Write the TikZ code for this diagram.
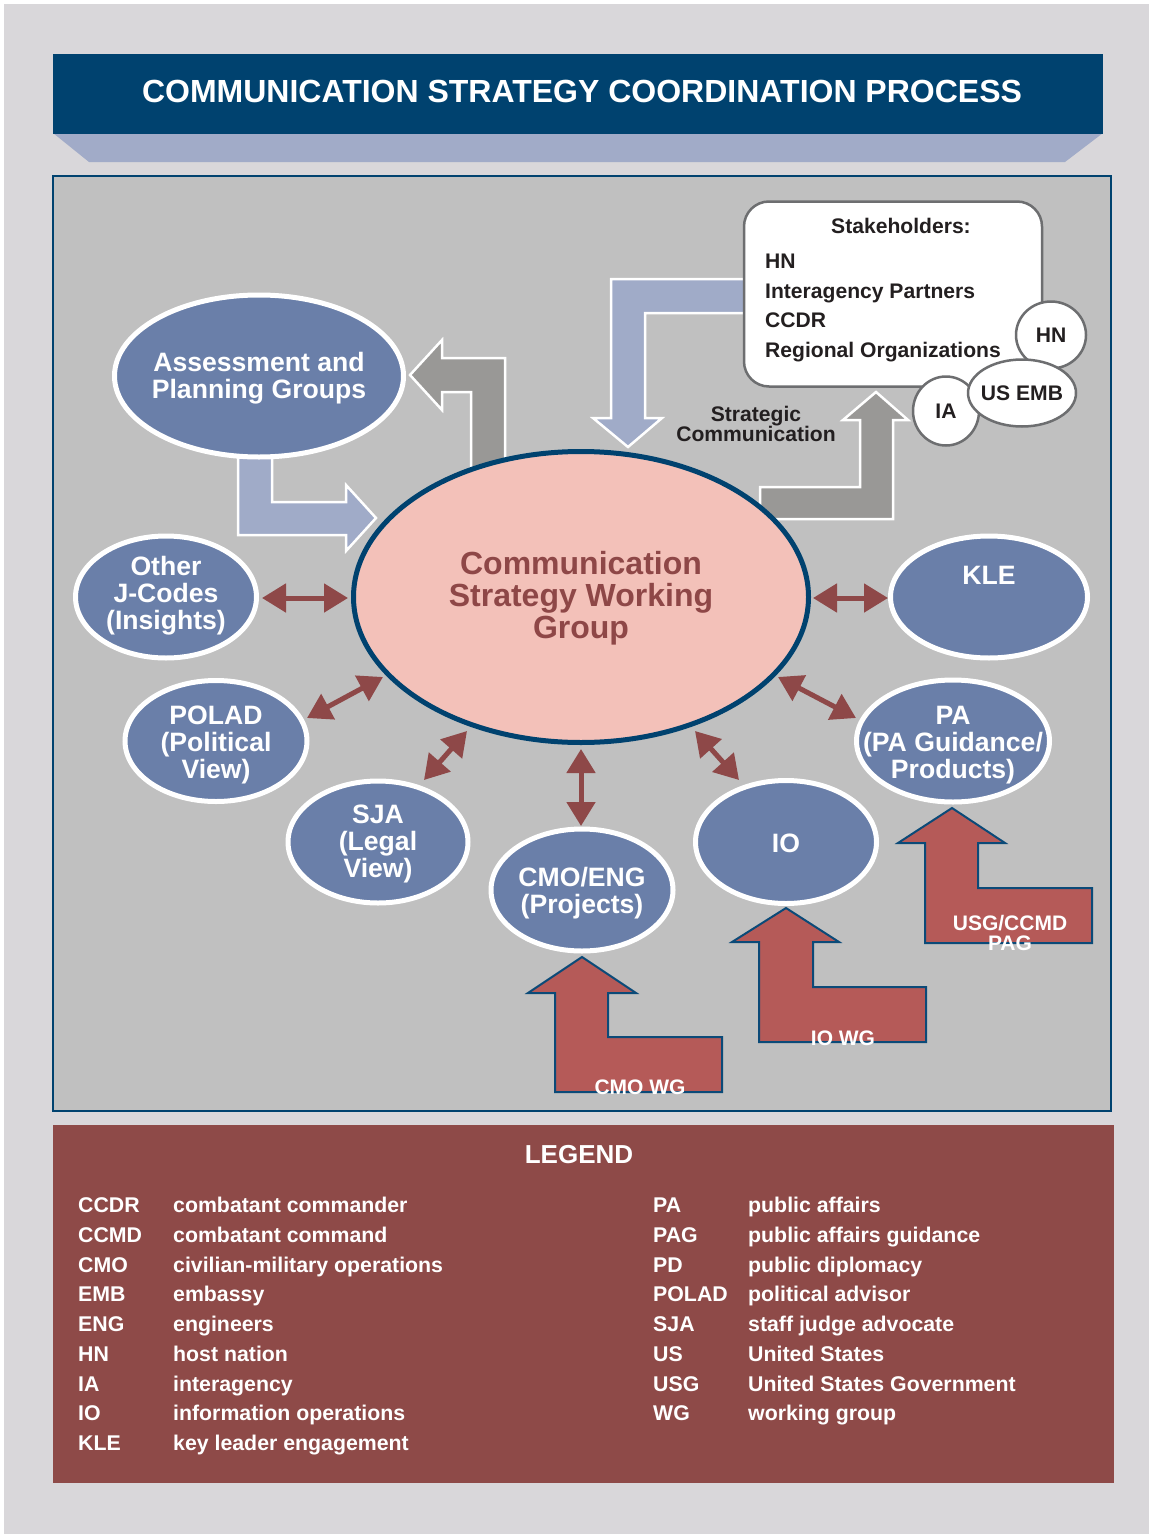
\documentclass[tikz,border=0pt]{standalone}
\usepackage{fontspec}
\setmainfont{Liberation Sans}
\usetikzlibrary{shapes.geometric,arrows.meta}
\definecolor{pagebg}{HTML}{D9D7DA}
\definecolor{navy}{HTML}{00426F}
\definecolor{trap}{HTML}{A1ABC8}
\definecolor{panel}{HTML}{C0C0C0}
\definecolor{legbg}{HTML}{8E4A48}
\definecolor{satfill}{HTML}{6A7FA9}
\definecolor{core}{HTML}{F3C1B9}
\definecolor{coretext}{HTML}{8E4747}
\definecolor{arrowred}{HTML}{8E4848}
\definecolor{lblue}{HTML}{A0ABC8}
\definecolor{lgray}{HTML}{999896}
\definecolor{redblk}{HTML}{B55A58}
\definecolor{redline}{HTML}{0B4A78}
\definecolor{boxline}{HTML}{6D6E70}
\definecolor{ink}{HTML}{231F20}
\tikzset{
  satell/.style={ellipse, draw=white, line width=5pt, fill=satfill, inner sep=0pt},
  sattext/.style={text=white, font=\bfseries\fontsize{26.6}{27}\selectfont, align=center},
  biarrow/.style={{Triangle[length=24pt,width=28pt]}-{Triangle[length=24pt,width=28pt]}, line width=5pt, draw=arrowred},
  bigarrow/.style={draw=white, line width=2.5pt, line join=miter},
  redarrow/.style={draw=redline, fill=redblk, line width=2pt, line join=miter},
  redtext/.style={text=white, font=\bfseries\fontsize{21}{20}\selectfont, align=center},
  stk/.style={draw=boxline, fill=white, line width=2.5pt},
  stktext/.style={text=ink, font=\bfseries\fontsize{21.1}{20}\selectfont},
  legt/.style={text=white, font=\bfseries\fontsize{21.3}{25}\selectfont, anchor=base west, inner sep=0pt}
}
\begin{document}
\begin{tikzpicture}[x=1pt,y=-1pt]
\useasboundingbox (0,0) rectangle (1151,1536);
\fill[white] (0,0) rectangle (1151,1536);
\fill[pagebg] (4,4) rectangle (1149,1534);
% title
\fill[trap] (53,133) -- (1103,133) -- (1065,162) -- (89,162) -- cycle;
\fill[navy] (53,54) rectangle (1103,134);
\node[text=white, font=\bfseries\fontsize{32}{33}\selectfont] (title) at (582,91) {COMMUNICATION STRATEGY COORDINATION PROCESS};
% main panel
\draw[navy, fill=panel, line width=2pt] (53,176) rectangle (1111,1111);

% big block arrows
\filldraw[bigarrow, fill=lblue] (760,279) -- (611,279) -- (611,418) -- (593,418) -- (628,447) -- (662,418) -- (645,418) -- (645,313) -- (760,313) -- cycle;
\filldraw[bigarrow, fill=lgray] (876,392) -- (908,420) -- (893,420) -- (893,519) -- (760,519) -- (760,487) -- (860,487) -- (860,420) -- (843,420) -- cycle;
\filldraw[bigarrow, fill=lgray] (471,480) -- (471,392) -- (442,392) -- (442,410) -- (410,375) -- (442,340) -- (442,358) -- (505,358) -- (505,480) -- cycle;
\filldraw[bigarrow, fill=lblue] (238,440) -- (238,535) -- (346,535) -- (346,551) -- (376,518) -- (346,485) -- (346,502) -- (272,502) -- (272,440) -- cycle;

% stakeholders
\node[stk, rounded corners=25pt, minimum width=298pt, minimum height=185pt] (stake) at (893,294) {};
\node[stktext] (stakehead) at (901,226) {Stakeholders:};
\node[stktext, anchor=base west, inner sep=0pt] (s1) at (765,268.5) {HN};
\node[stktext, anchor=base west, inner sep=0pt] (s2) at (765,298.5) {Interagency Partners};
\node[stktext, anchor=base west, inner sep=0pt] (s3) at (765,327.5) {CCDR};
\node[stktext, anchor=base west, inner sep=0pt] (s4) at (765,357.5) {Regional Organizations};
\node[stk, ellipse, minimum width=70pt, minimum height=67pt, inner sep=0pt] (hn) at (1051,335) {};
\node[stktext] at (hn) {HN};
\node[stk, ellipse, minimum width=66pt, minimum height=69pt, inner sep=0pt] (ia) at (946,411) {};
\node[stktext] at (ia) {IA};
\node[stk, ellipse, minimum width=108pt, minimum height=67pt, inner sep=0pt] (usemb) at (1022,393) {};
\node[stktext] at (usemb) {US EMB};
\node[stktext, align=center] (stratcom) at (756,424) {Strategic\\Communication};

% central ellipse
\node[ellipse, draw=navy, line width=5pt, fill=core, minimum width=455pt, minimum height=291pt, inner sep=0pt] (cswg) at (581,597) {};
\node[text=coretext, font=\bfseries\fontsize{32}{32}\selectfont, align=center] at (581,598) {Communication\\Strategy Working\\Group};

% satellites
\node[satell, minimum width=289pt, minimum height=162pt] (apg) at (259,376) {};
\node[sattext] at (259,378) {Assessment and\\Planning Groups};
\node[satell, minimum width=181pt, minimum height=122pt] (ojc) at (166,597) {};
\node[sattext] at (166,596) {Other\\J-Codes\\(Insights)};
\node[satell, minimum width=182pt, minimum height=121pt] (polad) at (216,741) {};
\node[sattext] at (216,745) {POLAD\\(Political\\View)};
\node[satell, minimum width=180pt, minimum height=122pt] (sja) at (378,842) {};
\node[sattext] at (378,844) {SJA\\(Legal\\View)};
\node[satell, minimum width=182pt, minimum height=122pt] (cmo) at (582,890) {};
\node[sattext] at (582,893) {CMO/ENG\\(Projects)};
\node[satell, minimum width=181pt, minimum height=123pt] (io) at (786,842) {};
\node[sattext] at (786,843) {IO};
\node[satell, minimum width=193pt, minimum height=122pt] (pa) at (953,741) {};
\node[sattext] at (953,745) {PA\\(PA Guidance/\\Products)};
\node[satell, minimum width=197pt, minimum height=122pt] (kle) at (989,597) {};
\node[sattext] at (989,575) {KLE};

% double arrows
\coordinate (ojcA) at (262,598); \coordinate (cA) at (348,598);
\coordinate (kleA) at (888,598); \coordinate (cB) at (813,598);
\coordinate (poladA) at (307,718); \coordinate (cC) at (383,677);
\coordinate (sjaA) at (424,780); \coordinate (cD) at (467,731);
\coordinate (cmoA) at (581,826); \coordinate (cE) at (581,749);
\coordinate (ioA) at (739,780); \coordinate (cF) at (695,731);
\coordinate (paA) at (856,718); \coordinate (cG) at (778,677);
\draw[biarrow] (ojcA) -- (cA);
\draw[biarrow] (kleA) -- (cB);
\draw[biarrow] (poladA) -- (cC);
\draw[biarrow] (sjaA) -- (cD);
\draw[biarrow] (cmoA) -- (cE);
\draw[biarrow] (ioA) -- (cF);
\draw[biarrow] (paA) -- (cG);

% red L arrows
\filldraw[redarrow] (952,808) -- (1005,843) -- (978,843) -- (978,888) -- (1092,888) -- (1092,943) -- (925,943) -- (925,843) -- (898,843) -- cycle;
\filldraw[redarrow] (582,957) -- (636,993) -- (608,993) -- (608,1037) -- (722,1037) -- (722,1092) -- (555,1092) -- (555,993) -- (528,993) -- cycle;
\filldraw[redarrow] (786,908) -- (839,942) -- (813,942) -- (813,987) -- (926,987) -- (926,1042) -- (759,1042) -- (759,942) -- (732,942) -- cycle;
\node[redtext] (usgl) at (1010,933) {USG/CCMD\\PAG};
\node[redtext] (cmol) at (640,1087) {CMO WG};
\node[redtext] (iol) at (843,1038) {IO WG};

% legend
\fill[legbg] (53,1125) rectangle (1114,1483);
\node[text=white, font=\bfseries\fontsize{26}{28}\selectfont] (legend) at (579,1155) {LEGEND};
\foreach \a/\d [count=\i from 0] in {CCDR/combatant commander, CCMD/combatant command, CMO/civilian-military operations, EMB/embassy, ENG/engineers, HN/host nation, IA/interagency, IO/information operations, KLE/key leader engagement} {
  \node[legt] (la\i) at (78,{1212.5+29.75*\i}) {\a};
  \node[legt] (ld\i) at (173,{1212.5+29.75*\i}) {\d};
}
\foreach \a/\d [count=\i from 0] in {PA/public affairs, PAG/public affairs guidance, PD/public diplomacy, POLAD/political advisor, SJA/staff judge advocate, US/United States, USG/United States Government, WG/working group} {
  \node[legt] (ra\i) at (653,{1212.5+29.75*\i}) {\a};
  \node[legt] (rd\i) at (748,{1212.5+29.75*\i}) {\d};
}
\end{tikzpicture}
\end{document}
